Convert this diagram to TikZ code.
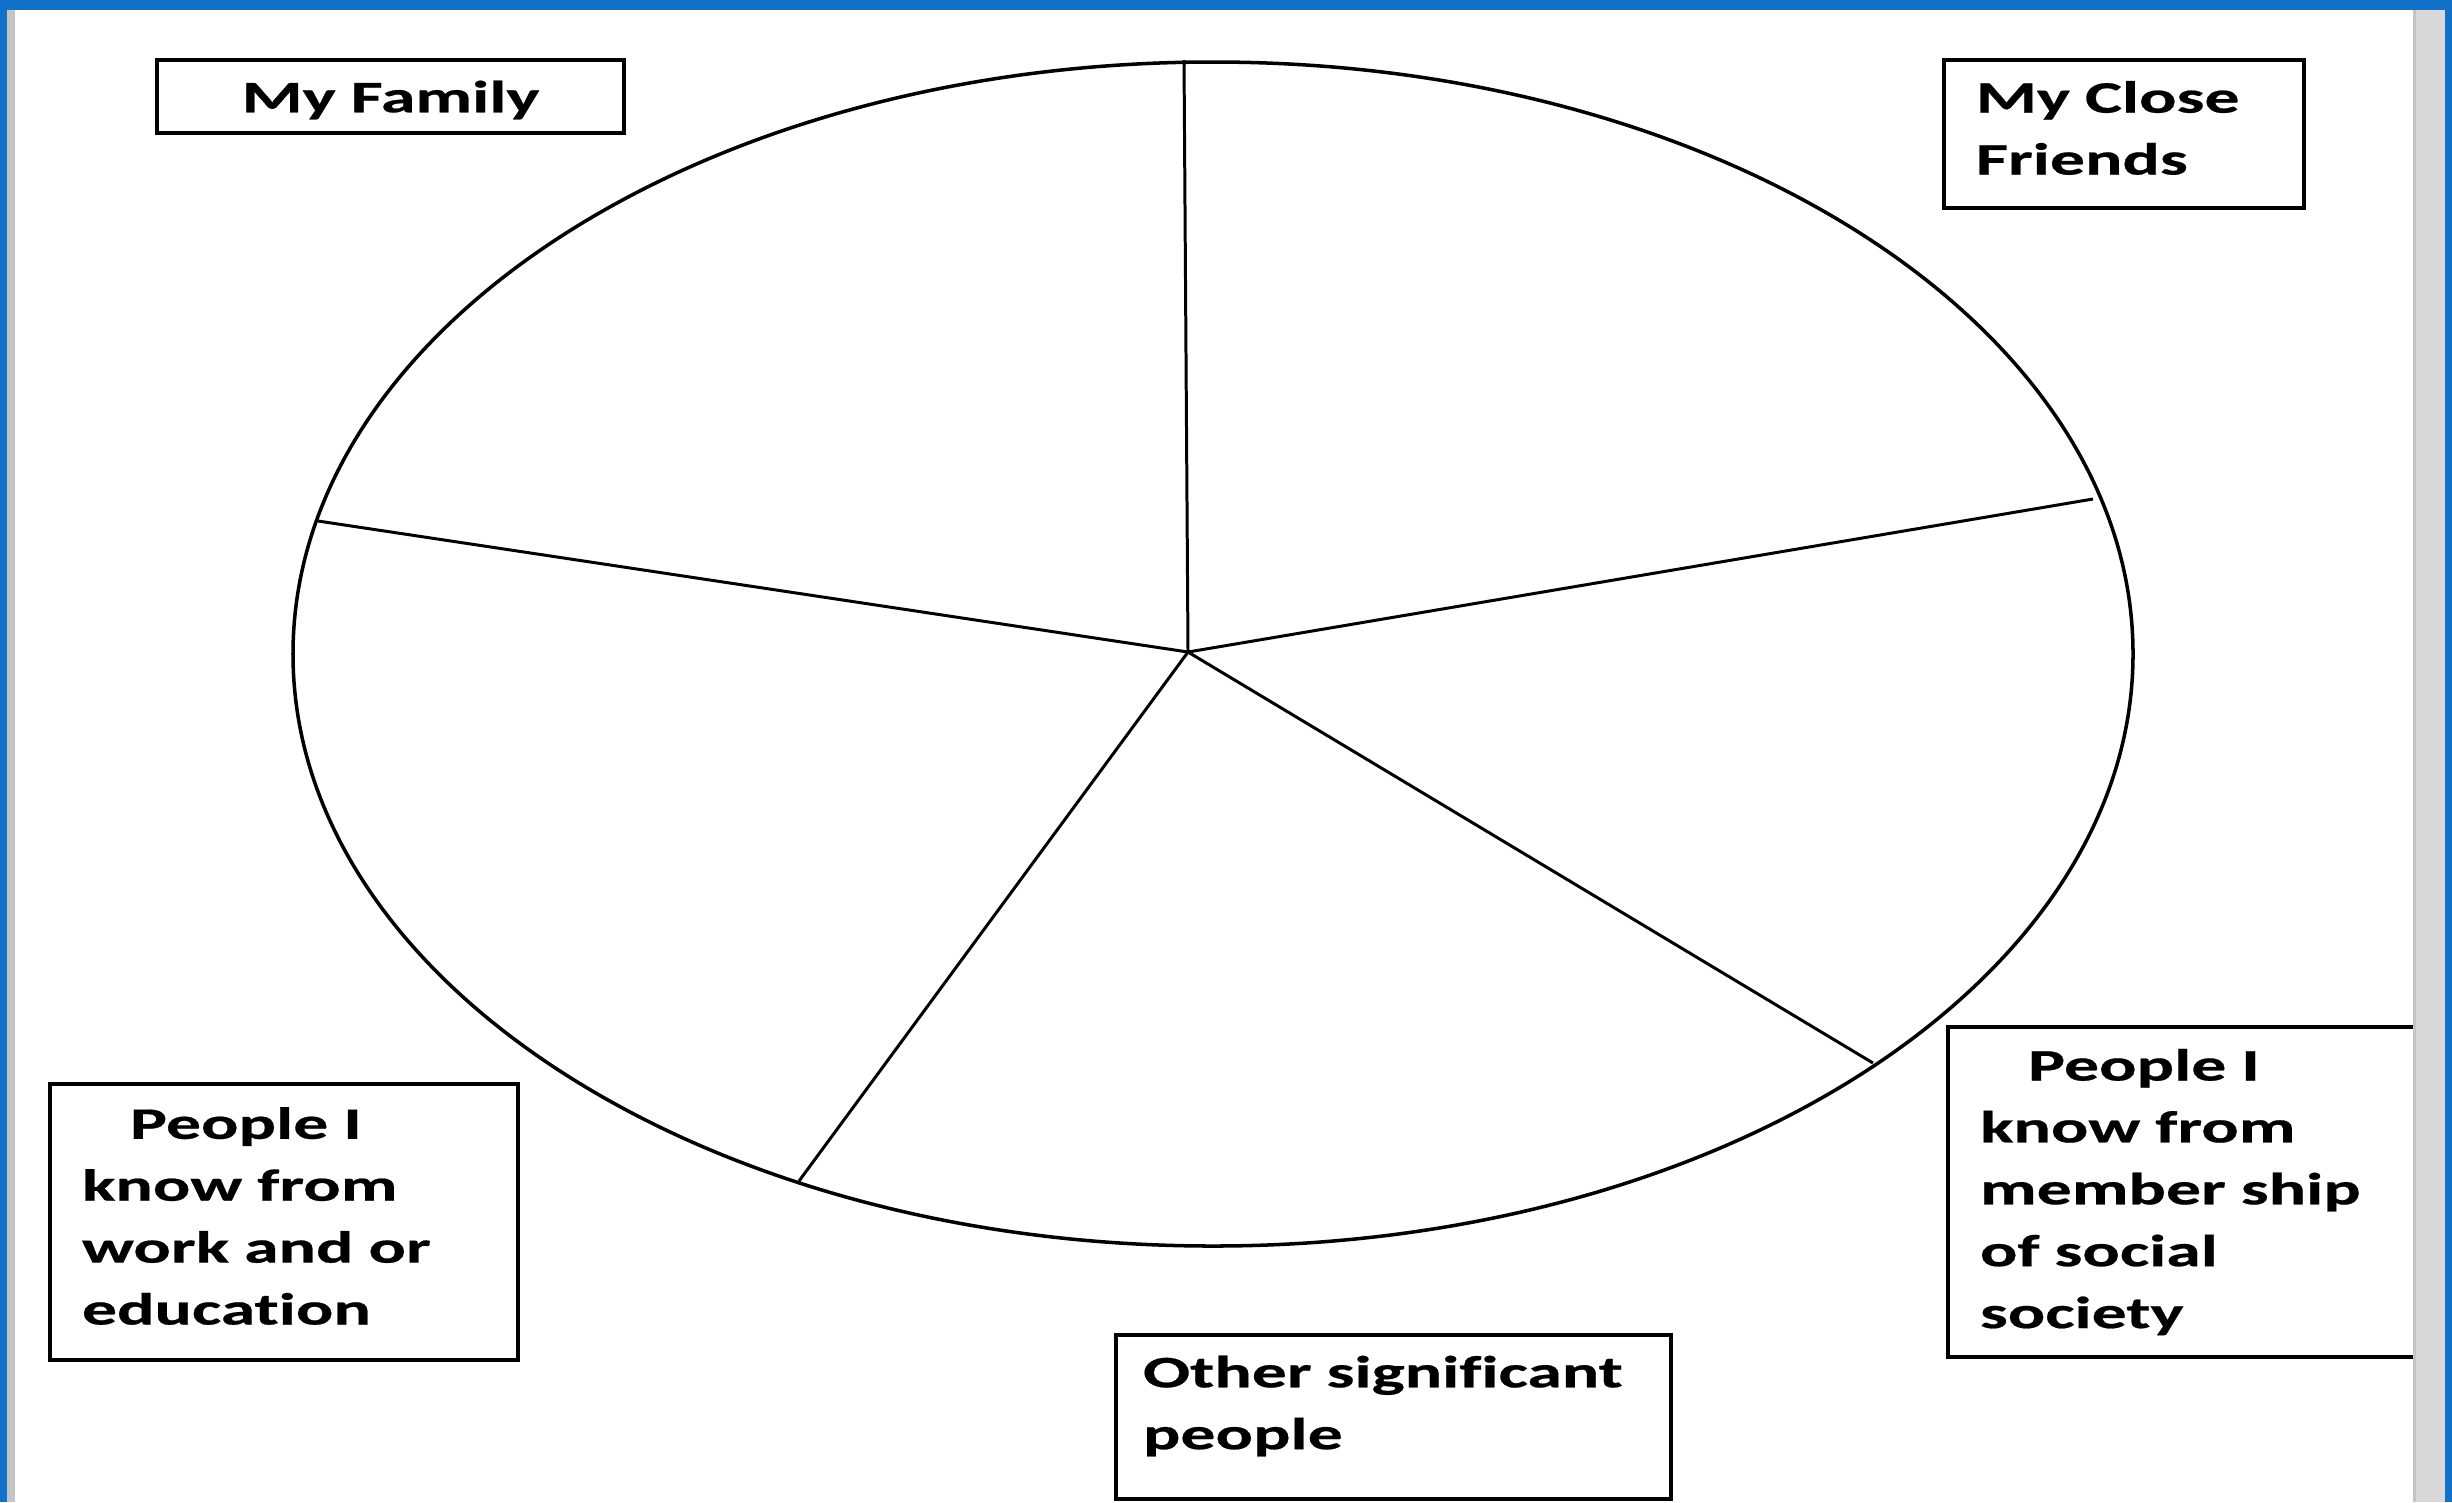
\documentclass[tikz,border=0pt]{standalone}
\usepackage{fontspec}
\newfontfamily\boxfont{Carlito}[FakeStretch=1.55,Ligatures=NoCommon,BoldFeatures={FakeBold=0.5}]
\definecolor{frameblue}{RGB}{17,112,200}
\definecolor{stripgray}{RGB}{217,217,217}
\definecolor{edgegray}{RGB}{196,196,196}

\begin{document}
\begin{tikzpicture}[x=0.01cm,y=-0.01cm,
  labelbox/.style={draw,line width=1.1pt,anchor=north west,inner xsep=0.32cm,inner ysep=0pt,align=left,
    font={\boxfont\bfseries\fontsize{12.8}{17.6}\selectfont}},
  textup/.style={execute at end node={\vspace*{#1}}},
  spoke/.style={line width=0.85pt}]
\useasboundingbox (0,0) rectangle (2452,1502);
\fill[white] (0,0) rectangle (2452,1502);

\draw[line width=1pt] (1213,654) ellipse (920 and 592);
\coordinate (hub) at (1188,652);
\coordinate (rimtop) at (1184,60);
\coordinate (rimright) at (2093,499);
\coordinate (rimlowright) at (1873,1063);
\coordinate (rimbottom) at (799,1181);
\coordinate (rimleft) at (318,521);
\foreach \rim in {rimtop,rimright,rimlowright,rimbottom,rimleft}
  \draw[spoke] (hub) -- (\rim);

\node[labelbox,align=center,textup=-0.1cm,text width=4.03cm,minimum height=0.73cm] (family) at (155,58) {My Family};
\node[labelbox,textup=0.12cm,text width=2.96cm,minimum height=1.48cm] (friends) at (1942,58) {My Close\\Friends};
\node[labelbox,text width=4.30cm,minimum height=3.30cm] (society) at (1946,1025)
  {\hspace*{0.48cm}People I\\know from\\member ship\\of social\\society};
\node[labelbox,textup=0.12cm,text width=4.04cm,minimum height=2.76cm] (work) at (48,1082)
  {\hspace*{0.48cm}People I\\know from\\work and or\\education};
\node[labelbox,textup=0.22cm,inner xsep=0.27cm,text width=5.01cm,minimum height=1.64cm] (other) at (1114,1333)
  {Other significant\\people};

\fill[frameblue] (0,0) rectangle (2452,10);
\fill[frameblue] (0,0) rectangle (7,1502);
\fill[edgegray] (7,10) rectangle (15,1502);
\fill[stripgray] (2413,10) rectangle (2445,1502);
\fill[edgegray] (2413,10) rectangle (2416,1502);
\fill[frameblue] (2445,0) rectangle (2452,1502);
\end{tikzpicture}
\end{document}
